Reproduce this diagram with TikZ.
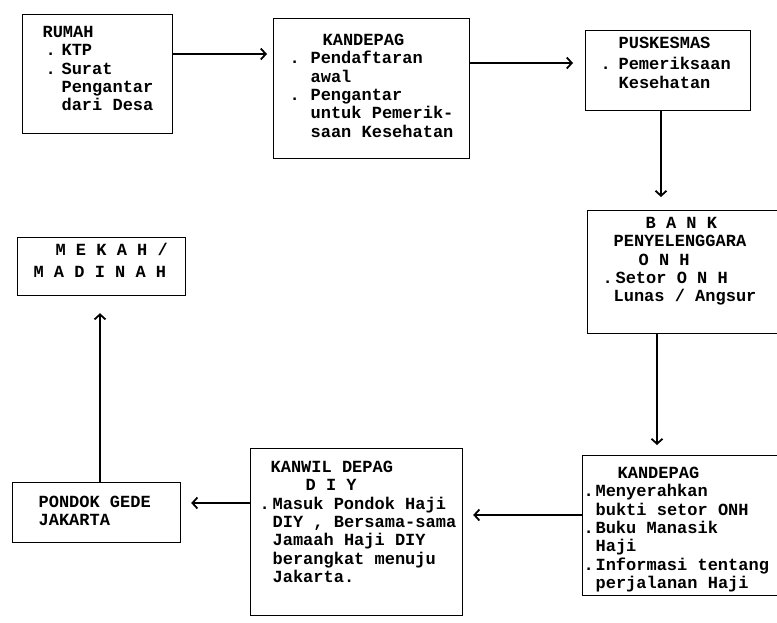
\documentclass[tikz,border=0pt]{standalone}
\usepackage{fontspec}
\usetikzlibrary{positioning,arrows.meta}
\newfontfamily\ketikfont{Liberation Mono}
\newcommand{\ketik}{\ketikfont\bfseries\fontsize{17}{18.3}\selectfont}
\newcommand{\isi}[4]{\parbox[t][#2][t]{#1}{\vspace*{#3}\ketik\begin{tabular}[t]{@{}l@{}}#4\end{tabular}}}
\newcommand{\butir}[2]{\hspace*{#1}\makebox[\dimexpr#2-#1\relax][l]{.}}
\tikzset{
  kotak/.style={draw=black, line width=1.2pt, inner sep=0pt, anchor=north west},
  panah/.style={-{Straight Barb[length=5pt,width=11pt,line width=1.8pt]}, line width=1.1pt},
}

\begin{document}
\begin{tikzpicture}[x=1pt,y=-1pt]
\path[fill=white, use as bounding box] (0,0) rectangle (777,622);
% baris atas
\node[kotak] (rumah) at (22,14) {\isi{150pt}{119pt}{10.2pt}{%
  \hspace*{20pt}RUMAH\\
  \butir{23pt}{39pt}KTP\\
  \butir{23pt}{39pt}Surat\\
  \hspace*{39pt}Pengantar\\
  \hspace*{39pt}dari Desa}};
\node[kotak] (kandepag) at (273,18) {\isi{196pt}{140pt}{14.2pt}{%
  \hspace*{49pt}KANDEPAG\\
  \butir{16pt}{37pt}Pendaftaran\\
  \hspace*{37pt}awal\\
  \butir{16pt}{37pt}Pengantar\\
  \hspace*{37pt}untuk Pemerik-\\
  \hspace*{37pt}saan Kesehatan}};
\node[kotak] (puskesmas) at (585,30) {\isi{165pt}{80pt}{5.2pt}{%
  \hspace*{33pt}PUSKESMAS\\[3pt]
  \butir{15pt}{33pt}Pemeriksaan\\
  \hspace*{33pt}Kesehatan}};
% kolom kanan
\node[kotak] (bank) at (587,210) {\isi{205pt}{123pt}{5.2pt}{%
  \hspace*{58pt}B A N K\\
  \hspace*{26pt}PENYELENGGARA\\
  \hspace*{51pt}O N H\\
  \butir{15pt}{28pt}Setor O N H\\
  \hspace*{26pt}Lunas / Angsur}};
\node[kotak] (kandepagb) at (582,455) {\isi{210pt}{140pt}{10.2pt}{%
  \hspace*{35pt}KANDEPAG\\
  \butir{1pt}{13pt}Menyerahkan\\
  \hspace*{13pt}bukti setor ONH\\
  \butir{1pt}{13pt}Buku Manasik\\
  \hspace*{13pt}Haji\\
  \butir{1pt}{13pt}Informasi tentang\\
  \hspace*{13pt}perjalanan Haji}};
% baris bawah
\node[kotak] (kanwil) at (250,448) {\isi{212pt}{167pt}{11.2pt}{%
  \hspace*{20pt}KANWIL DEPAG\\
  \hspace*{55pt}D I Y\\
  \butir{9pt}{22pt}Masuk Pondok Haji\\
  \hspace*{22pt}DIY , Bersama-sama\\
  \hspace*{22pt}Jamaah Haji DIY\\
  \hspace*{22pt}berangkat menuju\\
  \hspace*{22pt}Jakarta.}};
\node[kotak] (pondok) at (12,482) {\isi{168pt}{60pt}{12.2pt}{%
  \hspace*{26pt}PONDOK GEDE\\
  \hspace*{26pt}JAKARTA}};
\node[kotak] (mekah) at (17,237) {\isi{168pt}{58pt}{5.2pt}{%
  \hspace*{38pt}M E K A H /\\[4pt]
  \hspace*{16pt}M A D I N A H}};
% panah
\draw[panah, shorten >=6pt] ([yshift=-40pt]rumah.north east) -- ([yshift=-40pt]rumah.north east -| kandepag.west);
\draw[panah, shorten >=12pt] ([yshift=-45pt]kandepag.north east) -- ([yshift=-45pt]kandepag.north east -| puskesmas.west);
\draw[panah, shorten >=13pt] ([xshift=76pt]puskesmas.south west) -- ([xshift=76pt]puskesmas.south west |- bank.north);
\draw[panah, shorten >=10pt] ([xshift=70pt]bank.south west) -- ([xshift=70pt]bank.south west |- kandepagb.north);
\draw[panah, shorten >=10pt] ([yshift=-60pt]kandepagb.north west) -- ([yshift=-60pt]kandepagb.north west -| kanwil.east);
\draw[panah, shorten >=10pt] ([yshift=-55pt]kanwil.north west) -- ([yshift=-55pt]kanwil.north west -| pondok.east);
\draw[panah, shorten >=17pt] ([xshift=88pt]pondok.north west) -- ([xshift=88pt]pondok.north west |- mekah.south);
\end{tikzpicture}
\end{document}
